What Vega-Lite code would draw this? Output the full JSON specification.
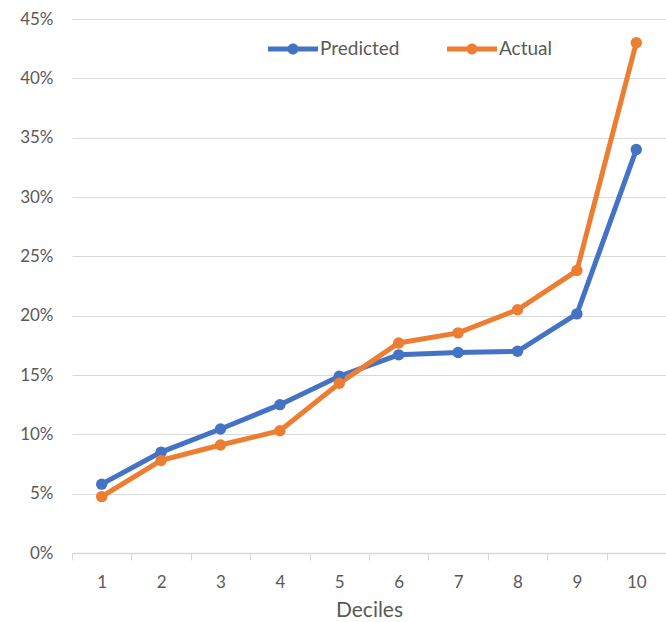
{
  "$schema": "https://vega.github.io/schema/vega-lite/v6.json",
  "width": 594,
  "height": 534,
  "autosize": {"type": "none"},
  "padding": {"left": 72, "top": 19, "right": 0, "bottom": 69},
  "background": "white",
  "config": {
    "font": "Lato",
    "view": {"stroke": null},
    "axis": {"labelFont": "Lato", "titleFont": "Lato", "labelColor": "#595959", "titleColor": "#595959"}
  },
  "data": {
    "values": [
      {"decile": "1", "series": "Predicted", "value": 0.058},
      {"decile": "2", "series": "Predicted", "value": 0.085},
      {"decile": "3", "series": "Predicted", "value": 0.1045},
      {"decile": "4", "series": "Predicted", "value": 0.125},
      {"decile": "5", "series": "Predicted", "value": 0.149},
      {"decile": "6", "series": "Predicted", "value": 0.167},
      {"decile": "7", "series": "Predicted", "value": 0.169},
      {"decile": "8", "series": "Predicted", "value": 0.170},
      {"decile": "9", "series": "Predicted", "value": 0.2015},
      {"decile": "10", "series": "Predicted", "value": 0.340},
      {"decile": "1", "series": "Actual", "value": 0.0475},
      {"decile": "2", "series": "Actual", "value": 0.078},
      {"decile": "3", "series": "Actual", "value": 0.091},
      {"decile": "4", "series": "Actual", "value": 0.103},
      {"decile": "5", "series": "Actual", "value": 0.143},
      {"decile": "6", "series": "Actual", "value": 0.177},
      {"decile": "7", "series": "Actual", "value": 0.1855},
      {"decile": "8", "series": "Actual", "value": 0.205},
      {"decile": "9", "series": "Actual", "value": 0.238},
      {"decile": "10", "series": "Actual", "value": 0.430}
    ]
  },
  "encoding": {
    "x": {
      "field": "decile",
      "type": "ordinal",
      "sort": null,
      "scale": {"type": "band", "paddingInner": 0, "paddingOuter": 0},
      "axis": {
        "title": "Deciles",
        "titleFontSize": 21,
        "titleFontWeight": "normal",
        "titlePadding": 9,
        "labelFontSize": 17,
        "labelAngle": 0,
        "labelPadding": 14,
        "tickBand": "extent",
        "tickSize": 7,
        "tickColor": "#d9d9d9",
        "domainColor": "#d9d9d9",
        "domainWidth": 1.5,
        "grid": false
      }
    },
    "y": {
      "field": "value",
      "type": "quantitative",
      "scale": {"domain": [0, 0.45], "nice": false},
      "axis": {
        "title": null,
        "format": ".0%",
        "values": [0, 0.05, 0.1, 0.15, 0.2, 0.25, 0.3, 0.35, 0.4, 0.45],
        "labelFontSize": 17,
        "labelPadding": 19,
        "domain": false,
        "ticks": false,
        "gridColor": "#d9d9d9",
        "gridWidth": 1.2
      }
    },
    "color": {
      "field": "series",
      "type": "nominal",
      "scale": {"domain": ["Predicted", "Actual"], "range": ["#4472C4", "#ED7D31"]},
      "legend": {
        "title": null,
        "orient": "none",
        "legendX": 196,
        "legendY": 5,
        "direction": "horizontal",
        "symbolType": "M-1,-0.1 L1,-0.1 L1,0.1 L-1,0.1 Z M-0.22,0 A0.22,0.22 0 1,1 0.22,0 A0.22,0.22 0 1,1 -0.22,0 Z",
        "symbolSize": 2500,
        "symbolStrokeWidth": 0,
        "symbolOpacity": 1,
        "labelFontSize": 19,
        "labelColor": "#595959",
        "labelOffset": 2,
        "columnPadding": 47
      }
    }
  },
  "layer": [
    {"mark": {"type": "line", "strokeWidth": 5}},
    {"mark": {"type": "point", "filled": true, "size": 130, "opacity": 1}}
  ]
}
